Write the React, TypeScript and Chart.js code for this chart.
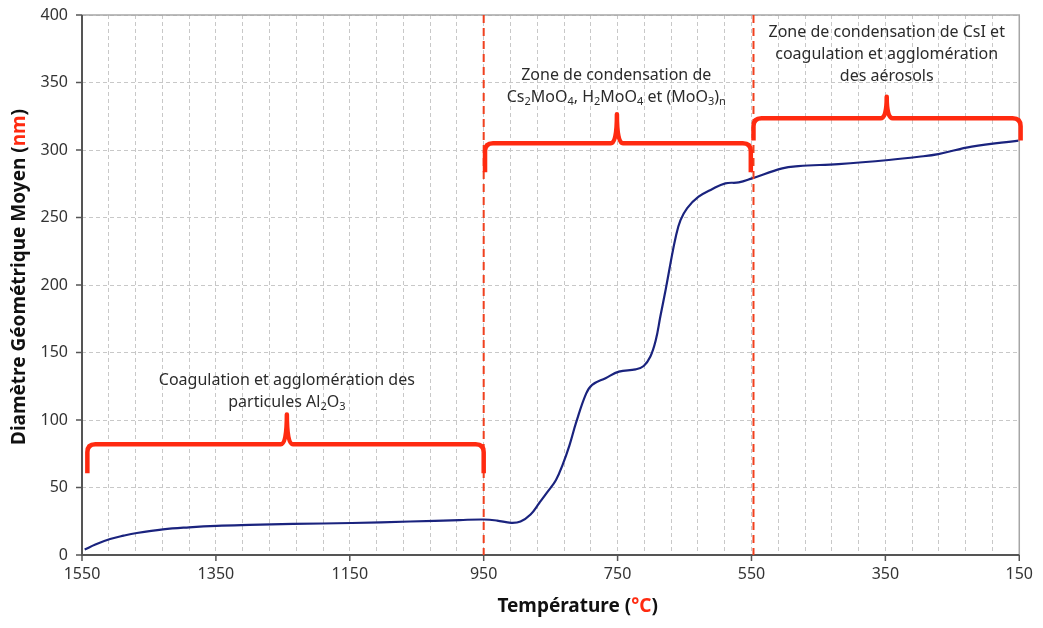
import React, { useEffect, useRef } from 'react';
import { Chart, registerables } from 'chart.js';

Chart.register(...registerables);

// ---- Data ----
const temperatures = [1546, 1530, 1508, 1488, 1468, 1429, 1390, 1349, 1300, 1235, 1147, 1060, 986, 950, 930, 909, 895, 880, 867, 855, 842, 832, 822, 812, 797, 788, 768, 748, 723, 711, 701, 693, 686, 678, 671, 663, 656, 646, 629, 609, 589, 569, 549, 504, 480, 420, 345, 300, 271, 221, 151];
const diameters = [4, 7.8, 11.8, 14.3, 16.3, 19, 20.5, 21.6, 22.3, 23, 23.7, 24.8, 25.9, 26.3, 25.5, 23.8, 24.8, 30, 38.5, 46.5, 55.6, 67, 81, 98, 119.5, 126, 131, 135.8, 137.5, 140, 147, 159, 177, 197, 216, 236, 248, 257, 265.4, 271, 275.3, 276, 279, 286.4, 288, 289.6, 292.6, 295, 297, 302.5, 306.9];

const xTickLabels = [1550, 1350, 1150, 950, 750, 550, 350, 150];
const xGridStep = 40;
const yTickValues = [0, 50, 100, 150, 200, 250, 300, 350, 400];

const zoneBoundaries = [950, 547];

const bracketStart = [1542, 948, 547];
const bracketEnd = [950, 551, 148];
const bracketPeak = [1244, 751, 348];
const bracketLevel = [82, 305, 323.5];
const bracketTip = [104, 326.5, 339.5];
const bracketEndLevel = [60.5, 283.5, 307];

type Seg = { t: string; sub?: boolean; color?: string };

const zoneLabels: Seg[][][] = [
  [
    [{ t: 'Coagulation et agglomération des' }],
    [{ t: 'particules Al' }, { t: '2', sub: true }, { t: 'O' }, { t: '3', sub: true }],
  ],
  [
    [{ t: 'Zone de condensation de' }],
    [
      { t: 'Cs' }, { t: '2', sub: true }, { t: 'MoO' }, { t: '4', sub: true },
      { t: ', H' }, { t: '2', sub: true }, { t: 'MoO' }, { t: '4', sub: true },
      { t: ' et (MoO' }, { t: '3', sub: true }, { t: ')' }, { t: 'n', sub: true },
    ],
  ],
  [
    [{ t: 'Zone de condensation de CsI et' }],
    [{ t: 'coagulation et agglomération' }],
    [{ t: 'des aérosols' }],
  ],
];
const zoneLabelX = [1244, 752, 348];
const zoneLabelTopY = [129.6, 355.6, 387.4];

const xTitle: Seg[] = [{ t: 'Température (' }, { t: '°C', color: '#ff2a10' }, { t: ')' }];
const yTitle: Seg[] = [{ t: 'Diamètre Géométrique Moyen (' }, { t: 'nm', color: '#ff2a10' }, { t: ')' }];

const FONT = '"Noto Sans", "DejaVu Sans", sans-serif';

function drawRich(ctx: CanvasRenderingContext2D, segs: Seg[], cx: number, cy: number, size: number, weight: string, baseColor: string) {
  const subSize = Math.round(size * 0.68);
  let total = 0;
  const widths: number[] = [];
  for (const s of segs) {
    ctx.font = `${weight} ${s.sub ? subSize : size}px ${FONT}`;
    const w = ctx.measureText(s.t).width;
    widths.push(w);
    total += w;
  }
  let x = cx - total / 2;
  ctx.textBaseline = 'middle';
  ctx.textAlign = 'left';
  segs.forEach((s, i) => {
    ctx.font = `${weight} ${s.sub ? subSize : size}px ${FONT}`;
    ctx.fillStyle = s.color || baseColor;
    ctx.fillText(s.t, x, s.sub ? cy + size * 0.32 : cy);
    x += widths[i];
  });
}

const overlayPlugin = {
  id: 'overlay',
  afterDraw(chart: any) {
    const ctx: CanvasRenderingContext2D = chart.ctx;
    const { left, right, top, bottom } = chart.chartArea;
    const xs = chart.scales.x;
    const ys = chart.scales.y;
    ctx.save();

    // frame
    ctx.setLineDash([]);
    ctx.strokeStyle = '#a6a6a6';
    ctx.lineWidth = 1.5;
    ctx.beginPath();
    ctx.moveTo(left, top);
    ctx.lineTo(right, top);
    ctx.lineTo(right, bottom);
    ctx.stroke();
    ctx.strokeStyle = '#555';
    ctx.lineWidth = 2;
    ctx.beginPath();
    ctx.moveTo(left, top);
    ctx.lineTo(left, bottom);
    ctx.lineTo(right, bottom);
    ctx.stroke();

    // tick marks
    ctx.lineWidth = 1.5;
    yTickValues.forEach((v) => {
      const y = ys.getPixelForValue(v);
      ctx.beginPath();
      ctx.moveTo(left - 6, y);
      ctx.lineTo(left, y);
      ctx.stroke();
    });
    xTickLabels.forEach((v) => {
      const x = xs.getPixelForValue(v);
      ctx.beginPath();
      ctx.moveTo(x, bottom);
      ctx.lineTo(x, bottom + 6);
      ctx.stroke();
    });

    // zone boundaries
    ctx.strokeStyle = '#f0401e';
    ctx.lineWidth = 2;
    ctx.setLineDash([8, 5]);
    zoneBoundaries.forEach((v) => {
      const x = xs.getPixelForValue(v);
      ctx.beginPath();
      ctx.moveTo(x, top);
      ctx.lineTo(x, bottom);
      ctx.stroke();
    });
    ctx.setLineDash([]);

    // brackets
    ctx.strokeStyle = '#ff2a10';
    ctx.lineWidth = 4.5;
    ctx.lineJoin = 'round';
    for (let i = 0; i < bracketStart.length; i++) {
      const x0 = xs.getPixelForValue(bracketStart[i]);
      const x1 = xs.getPixelForValue(bracketEnd[i]);
      const xm = xs.getPixelForValue(bracketPeak[i]);
      const yl = ys.getPixelForValue(bracketLevel[i]);
      const yt = ys.getPixelForValue(bracketTip[i]);
      const ye = ys.getPixelForValue(bracketEndLevel[i]);
      const r = 8;
      const w = 6;
      ctx.beginPath();
      ctx.moveTo(x0, ye);
      ctx.lineTo(x0, yl + r);
      ctx.quadraticCurveTo(x0, yl, x0 + r, yl);
      ctx.lineTo(xm - w, yl);
      ctx.quadraticCurveTo(xm, yl, xm, yt);
      ctx.quadraticCurveTo(xm, yl, xm + w, yl);
      ctx.lineTo(x1 - r, yl);
      ctx.quadraticCurveTo(x1, yl, x1, yl + r);
      ctx.lineTo(x1, ye);
      ctx.stroke();
    }

    // zone labels
    zoneLabels.forEach((lines, i) => {
      const cx = xs.getPixelForValue(zoneLabelX[i]);
      const cy0 = ys.getPixelForValue(zoneLabelTopY[i]);
      lines.forEach((segs, j) => {
        drawRich(ctx, segs, cx, cy0 + j * 22, 16, 'normal', '#2b2b2b');
      });
    });

    // axis titles
    drawRich(ctx, xTitle, (left + right) / 2 + 27, 607, 19, 'bold', '#111');
    ctx.translate(20, 277);
    ctx.rotate(-Math.PI / 2);
    drawRich(ctx, yTitle, 0, 0, 19, 'bold', '#111');
    ctx.restore();
  },
};

export default function App() {
  const ref = useRef<HTMLCanvasElement>(null);
  useEffect(() => {
    document.body.style.margin = '0';
    const labeled = new Set(xTickLabels);
    const chart = new Chart(ref.current!, {
      type: 'line',
      data: {
        datasets: [
          {
            data: temperatures.map((t, i) => ({ x: t, y: diameters[i] })),
            borderColor: '#1a237e',
            borderWidth: 2.2,
            pointRadius: 0,
            fill: false,
            tension: 0.4,
          },
        ],
      },
      options: {
        animation: false,
        responsive: false,
        maintainAspectRatio: false,
        layout: { autoPadding: false, padding: { top: 15, right: 22, left: 0, bottom: 0 } },
        plugins: { legend: { display: false }, tooltip: { enabled: false } },
        scales: {
          x: {
            type: 'linear',
            reverse: true,
            min: 150,
            max: 1550,
            afterBuildTicks: (scale: any) => {
              const ticks = [];
              for (let v = 1550; v >= 150; v -= xGridStep) ticks.push({ value: v });
              scale.ticks = ticks;
            },
            afterFit: (scale: any) => {
              scale.height = 73;
            },
            ticks: {
              autoSkip: false,
              maxRotation: 0,
              padding: 10,
              color: '#333',
              font: { family: FONT, size: 16 },
              callback: (v: any) => (labeled.has(v) ? String(v) : ''),
            },
            grid: { color: '#c8c8c8', lineWidth: 1, drawTicks: false },
            border: { display: false, dash: [4, 3] },
          },
          y: {
            min: 0,
            max: 400,
            afterBuildTicks: (scale: any) => {
              scale.ticks = yTickValues.map((v) => ({ value: v }));
            },
            afterFit: (scale: any) => {
              scale.width = 82;
            },
            ticks: {
              padding: 0,
              color: '#333',
              font: { family: FONT, size: 16 },
            },
            grid: {
              color: '#c8c8c8',
              lineWidth: 1,
              drawTicks: true,
              tickLength: 14,
              tickColor: 'rgba(0,0,0,0)',
            },
            border: { display: false, dash: [4, 3] },
          },
        },
      },
      plugins: [overlayPlugin],
    });
    return () => chart.destroy();
  }, []);
  return <canvas ref={ref} width={1043} height={628} style={{ display: 'block' }} />;
}
